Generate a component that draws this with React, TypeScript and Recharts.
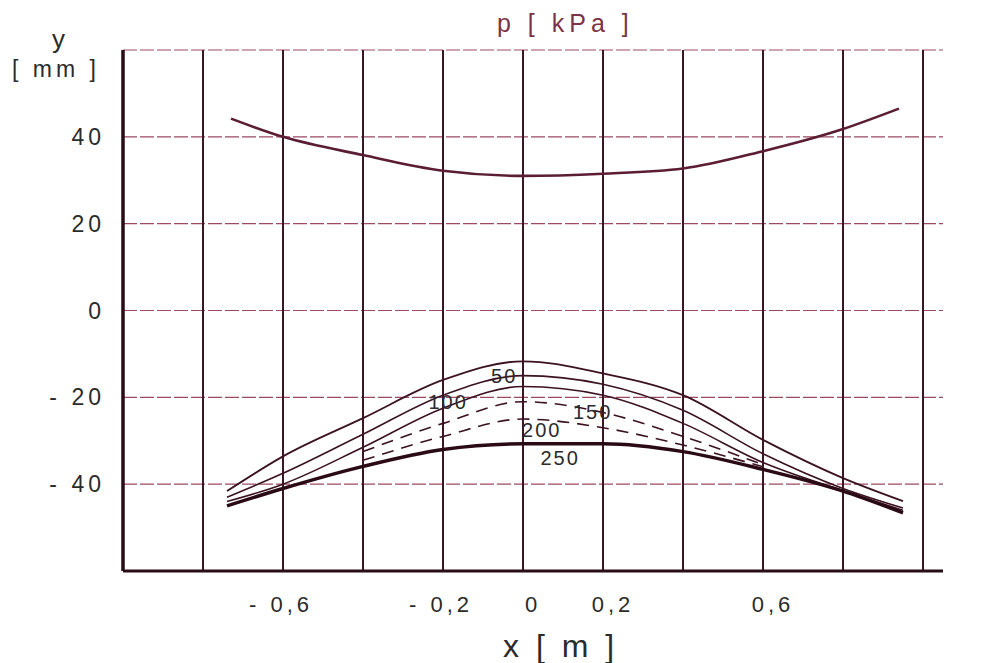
import { CartesianGrid, Line, LineChart, ReferenceDot, ReferenceLine, XAxis, YAxis } from "recharts";

// axis ticks and their printed labels (blank = unlabeled grid line)
const xTicks = [-1, -0.8, -0.6, -0.4, -0.2, 0, 0.2, 0.4, 0.6, 0.8, 1];
const xLabels = ["", "", "- 0,6", "", "- 0,2", "0", "0,2", "", "0,6", "", ""];
const yTicks = [-60, -40, -20, 0, 20, 40, 60];
const yLabels = ["", "- 40", "- 20", "0", "20", "40", ""];

// upper contour
const upperX = [-0.73, -0.6, -0.4, -0.2, 0, 0.2, 0.4, 0.6, 0.8, 0.94];
const upperY = [44.2, 40, 35.8, 32.2, 31, 31.5, 32.7, 36.7, 41.8, 46.5];

// lower contours for the different pressures
const lowerX = [-0.74, -0.6, -0.4, -0.2, 0, 0.2, 0.4, 0.6, 0.8, 0.95];
const outer = [-41.6, -33.6, -24.8, -16, -11.7, -14.5, -19.5, -29.8, -38.6, -43.9];
const p50 = [-43, -37.5, -28.5, -19.5, -15, -17, -23, -33, -41, -45.5];
const p100 = [-44, -40, -31.5, -22.5, -17.5, -19.5, -26, -35, -41.5, -46];
const p150 = [null, null, -32.5, -26, -21, -23.5, -29, -35.5, null, null];
const p200 = [null, null, -34.5, -29, -25, -27, -31, -36, null, null];
const p250 = [-45, -41, -35.9, -32, -30.7, -30.7, -32.5, -36.6, -41.6, -46.6];

// pressure labels written next to the curves
const pLabels = ["50", "100", "150", "200", "250"];
const pLabelX = [-0.047, -0.187, 0.174, 0.047, 0.093];
const pLabelY = [-15, -21.1, -23.4, -27.5, -34];

const upperData = upperX.map((x, i) => ({ x, y: upperY[i] }));
const lowerData = lowerX.map((x, i) => ({
  x,
  outer: outer[i],
  p50: p50[i],
  p100: p100[i],
  p150: p150[i],
  p200: p200[i],
  p250: p250[i],
}));

const font = "'Liberation Sans', Arial, sans-serif";
const ink = "#3a1221";

const labelAt = (ticks: number[], labels: string[], v: number) => {
  const i = ticks.findIndex((t) => Math.abs(t - v) < 1e-6);
  return i >= 0 ? labels[i] : "";
};

const XTick = (props: any) => {
  const { x, y, payload } = props;
  const text = labelAt(xTicks, xLabels, payload.value);
  const dx = payload.value < 0 ? -2 : 10;
  return (
    <text x={x + dx} y={y + 41} textAnchor="middle" fontSize={22} letterSpacing={4}
      fontFamily={font} fill="#2b2b2b">
      {text}
    </text>
  );
};

const YTick = (props: any) => {
  const { x, y, payload } = props;
  const text = labelAt(yTicks, yLabels, payload.value);
  return (
    <text x={x + 2} y={y + 8} textAnchor="end" fontSize={23} letterSpacing={4}
      fontFamily={font} fill="#2b2b2b">
      {text}
    </text>
  );
};

export default function App() {
  return (
    <div style={{ position: "absolute", left: 0, top: 0, width: 990, height: 663, background: "#fff", fontFamily: font }}>
      <LineChart width={990} height={663} margin={{ top: 50, right: 47, bottom: 0, left: 0 }}>
        <CartesianGrid vertical={false} stroke="#9c4a60" strokeWidth={1.2} strokeDasharray="14 3" />
        {xTicks.slice(1).map((t) => (
          <ReferenceLine key={t} x={t} stroke="#3d1626" strokeWidth={2} />
        ))}
        <XAxis
          type="number"
          dataKey="x"
          domain={[-1, 1.05]}
          ticks={xTicks}
          allowDataOverflow
          height={92}
          tickLine={false}
          tickSize={0}
          tickMargin={0}
          tick={<XTick />}
          axisLine={{ stroke: "#2a0c16", strokeWidth: 3 }}
        />
        <YAxis
          type="number"
          domain={[-60, 60]}
          ticks={yTicks}
          width={123}
          tickLine={false}
          tickSize={0}
          tickMargin={20}
          tick={<YTick />}
          axisLine={{ stroke: "#2a0c16", strokeWidth: 3.5 }}
        />
        <Line data={upperData} dataKey="y" type="monotone" stroke="#5a1d33" strokeWidth={2.6} dot={false} isAnimationActive={false} />
        <Line data={lowerData} dataKey="outer" type="monotone" stroke={ink} strokeWidth={1.8} dot={false} isAnimationActive={false} />
        <Line data={lowerData} dataKey="p50" type="monotone" stroke={ink} strokeWidth={1.6} dot={false} isAnimationActive={false} />
        <Line data={lowerData} dataKey="p100" type="monotone" stroke={ink} strokeWidth={1.6} dot={false} isAnimationActive={false} />
        <Line data={lowerData} dataKey="p150" type="monotone" stroke={ink} strokeWidth={1.6} strokeDasharray="12 8" dot={false} isAnimationActive={false} />
        <Line data={lowerData} dataKey="p200" type="monotone" stroke={ink} strokeWidth={1.6} strokeDasharray="12 8" dot={false} isAnimationActive={false} />
        <Line data={lowerData} dataKey="p250" type="monotone" stroke="#2a0a15" strokeWidth={3.5} dot={false} isAnimationActive={false} />
        {pLabels.map((t, i) => (
          <ReferenceDot
            key={t}
            x={pLabelX[i]}
            y={pLabelY[i]}
            r={0}
            fill="none"
            stroke="none"
            label={{ value: t, position: "center", fontSize: 20, letterSpacing: 2, fill: "#2b2b2b", fontFamily: font }}
          />
        ))}
      </LineChart>
      <div style={{ position: "absolute", left: 52, top: 24, fontSize: 26, color: "#2b2b2b" }}>y</div>
      <div style={{ position: "absolute", left: 12, top: 56, fontSize: 23, letterSpacing: 4, color: "#2b2b2b", whiteSpace: "pre" }}>[ mm ]</div>
      <div style={{ position: "absolute", left: 497, top: 9, fontSize: 25, letterSpacing: 5, color: "#7a3347", whiteSpace: "pre" }}>p [ kPa ]</div>
      <div style={{ position: "absolute", left: 503, top: 628, fontSize: 32, letterSpacing: 4, color: "#2b2b2b", whiteSpace: "pre" }}>x [ m ]</div>
    </div>
  );
}
